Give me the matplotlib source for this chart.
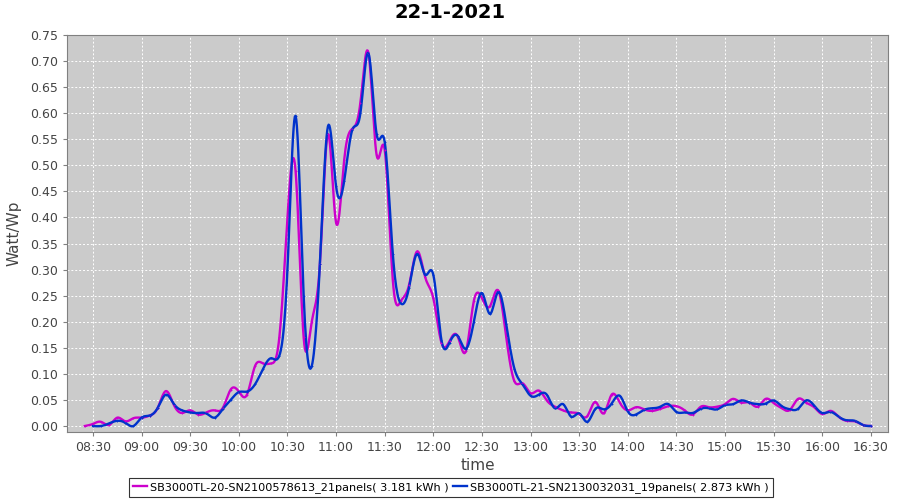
import numpy as np
import matplotlib
matplotlib.use('Agg')
import matplotlib.pyplot as plt
from matplotlib.ticker import FixedLocator, FuncFormatter

#! Data: 5-minute samples, minutes since midnight
times = np.arange(8 * 60 + 25, 16 * 60 + 35, 5)

inv20_name = 'SB3000TL-20-SN2100578613_21panels( 3.181 kWh )'
inv20 = [0.0, 0.004, 0.008, 0.002, 0.016, 0.009, 0.015, 0.016, 0.02, 0.035,
         0.067, 0.04, 0.025, 0.03, 0.022, 0.026, 0.03, 0.034, 0.07, 0.066,
         0.06, 0.115, 0.12, 0.12, 0.17, 0.40, 0.49, 0.17, 0.20, 0.31,
         0.56, 0.39, 0.51, 0.57, 0.62, 0.715, 0.52, 0.53, 0.28, 0.24,
         0.27, 0.335, 0.285, 0.245, 0.16, 0.163, 0.172, 0.143, 0.24, 0.245,
         0.23, 0.26, 0.17, 0.086, 0.082, 0.063, 0.068, 0.049, 0.037, 0.03,
         0.026, 0.023, 0.019, 0.046, 0.024, 0.06, 0.045, 0.03, 0.036, 0.032,
         0.029, 0.033, 0.038, 0.038, 0.03, 0.022, 0.037, 0.036, 0.037, 0.042,
         0.052, 0.045, 0.045, 0.037, 0.052, 0.044, 0.034, 0.031, 0.052, 0.045,
         0.036, 0.023, 0.029, 0.018, 0.01, 0.009, 0.002, 0.0]

inv21_name = 'SB3000TL-21-SN2130032031_19panels( 2.873 kWh )'
inv21 = [None, 0.0, 0.0, 0.005, 0.01, 0.006, 0.0, 0.016, 0.02, 0.035,
         0.06, 0.042, 0.03, 0.026, 0.025, 0.024, 0.016, 0.032, 0.05, 0.065,
         0.066, 0.08, 0.11, 0.13, 0.135, 0.30, 0.595, 0.25, 0.115, 0.31,
         0.575, 0.46, 0.47, 0.568, 0.60, 0.715, 0.56, 0.545, 0.33, 0.235,
         0.265, 0.33, 0.29, 0.29, 0.165, 0.16, 0.173, 0.148, 0.20, 0.255,
         0.215, 0.257, 0.195, 0.11, 0.08, 0.058, 0.06, 0.06, 0.034, 0.042,
         0.018, 0.024, 0.008, 0.033, 0.032, 0.043, 0.058, 0.028, 0.022, 0.031,
         0.034, 0.037, 0.042, 0.027, 0.026, 0.025, 0.033, 0.034, 0.032, 0.04,
         0.042, 0.049, 0.045, 0.042, 0.043, 0.049, 0.038, 0.032, 0.033, 0.049,
         0.039, 0.025, 0.027, 0.018, 0.011, 0.01, 0.002, 0.0]

tick_labels = ['08:30', '09:00', '09:30', '10:00', '10:30', '11:00', '11:30', '12:00',
               '12:30', '13:00', '13:30', '14:00', '14:30', '15:00', '15:30', '16:00', '16:30']


#! natural cubic spline, like the spline renderer of the original chart
def spline(x, y, n=12):
    x = np.asarray(x, float)
    y = np.asarray(y, float)
    k = len(x)
    h = np.diff(x)
    A = np.zeros((k, k))
    b = np.zeros(k)
    A[0, 0] = A[-1, -1] = 1
    for i in range(1, k - 1):
        A[i, i - 1] = h[i - 1]
        A[i, i] = 2 * (h[i - 1] + h[i])
        A[i, i + 1] = h[i]
        b[i] = 6 * ((y[i + 1] - y[i]) / h[i] - (y[i] - y[i - 1]) / h[i - 1])
    m = np.linalg.solve(A, b)
    xs, ys = [], []
    for i in range(k - 1):
        t = np.linspace(x[i], x[i + 1], n, endpoint=False)
        a = (x[i + 1] - t) / h[i]
        c = (t - x[i]) / h[i]
        s = (a * y[i] + c * y[i + 1]
             + ((a ** 3 - a) * m[i] + (c ** 3 - c) * m[i + 1]) * h[i] ** 2 / 6)
        xs.append(t)
        ys.append(s)
    xs.append([x[-1]])
    ys.append([y[-1]])
    return np.concatenate(xs), np.concatenate(ys)


fig = plt.figure(figsize=(9, 5), dpi=100)
ax = fig.add_axes([67 / 900, 1 - 432 / 500, (888 - 67) / 900, (432 - 35) / 500])
ax.set_facecolor('#cbcbcb')

series = [(inv20_name, inv20, '#cc00cc'), (inv21_name, inv21, '#0033cc')]
handles = []
for name, vals, col in series:
    pts = [(t, v) for t, v in zip(times, vals) if v is not None]
    tx = [p[0] for p in pts]
    vy = [p[1] for p in pts]
    sx, sy = spline(tx, vy)
    ln, = ax.plot(sx, sy, color=col, lw=1.7, label=name, zorder=3)
    handles.append(ln)
    ax.plot(tx, vy, ls='none', marker='+', ms=2, mew=0.6, color=col, zorder=4)

ax.set_xlim(494, 1000.5)
ax.set_ylim(-0.0115, 0.75)

xt = [8 * 60 + 30 + 30 * i for i in range(len(tick_labels))]
ax.xaxis.set_major_locator(FixedLocator(xt))
ax.set_xticklabels(tick_labels)
ax.yaxis.set_major_locator(FixedLocator(np.arange(0, 0.751, 0.05)))
ax.yaxis.set_major_formatter(FuncFormatter(lambda v, p: '%.2f' % v))

ax.grid(True, color='white', ls=(0, (2, 2)), lw=0.7)
ax.set_axisbelow(True)
for s in ax.spines.values():
    s.set_color('#808080')
ax.tick_params(colors='#808080', labelcolor='#444444', labelsize=9, length=3)

fig.suptitle('22-1-2021', x=0.5, y=0.995, fontsize=14, fontweight='bold')
ax.set_xlabel('time', fontsize=11, color='#444444', labelpad=3)
ax.set_ylabel('Watt/Wp', fontsize=11, color='#444444', labelpad=6)

leg = fig.legend(handles=handles, loc='lower center', bbox_to_anchor=(0.501, 0.0),
                 ncol=2, fontsize=8.1, frameon=True, fancybox=False,
                 handlelength=1.2, handletextpad=0.3, columnspacing=0.4,
                 borderpad=0.35, borderaxespad=0.3)
leg.get_frame().set_edgecolor('black')
leg.get_frame().set_linewidth(0.8)

fig.savefig('out.png', dpi=100)
